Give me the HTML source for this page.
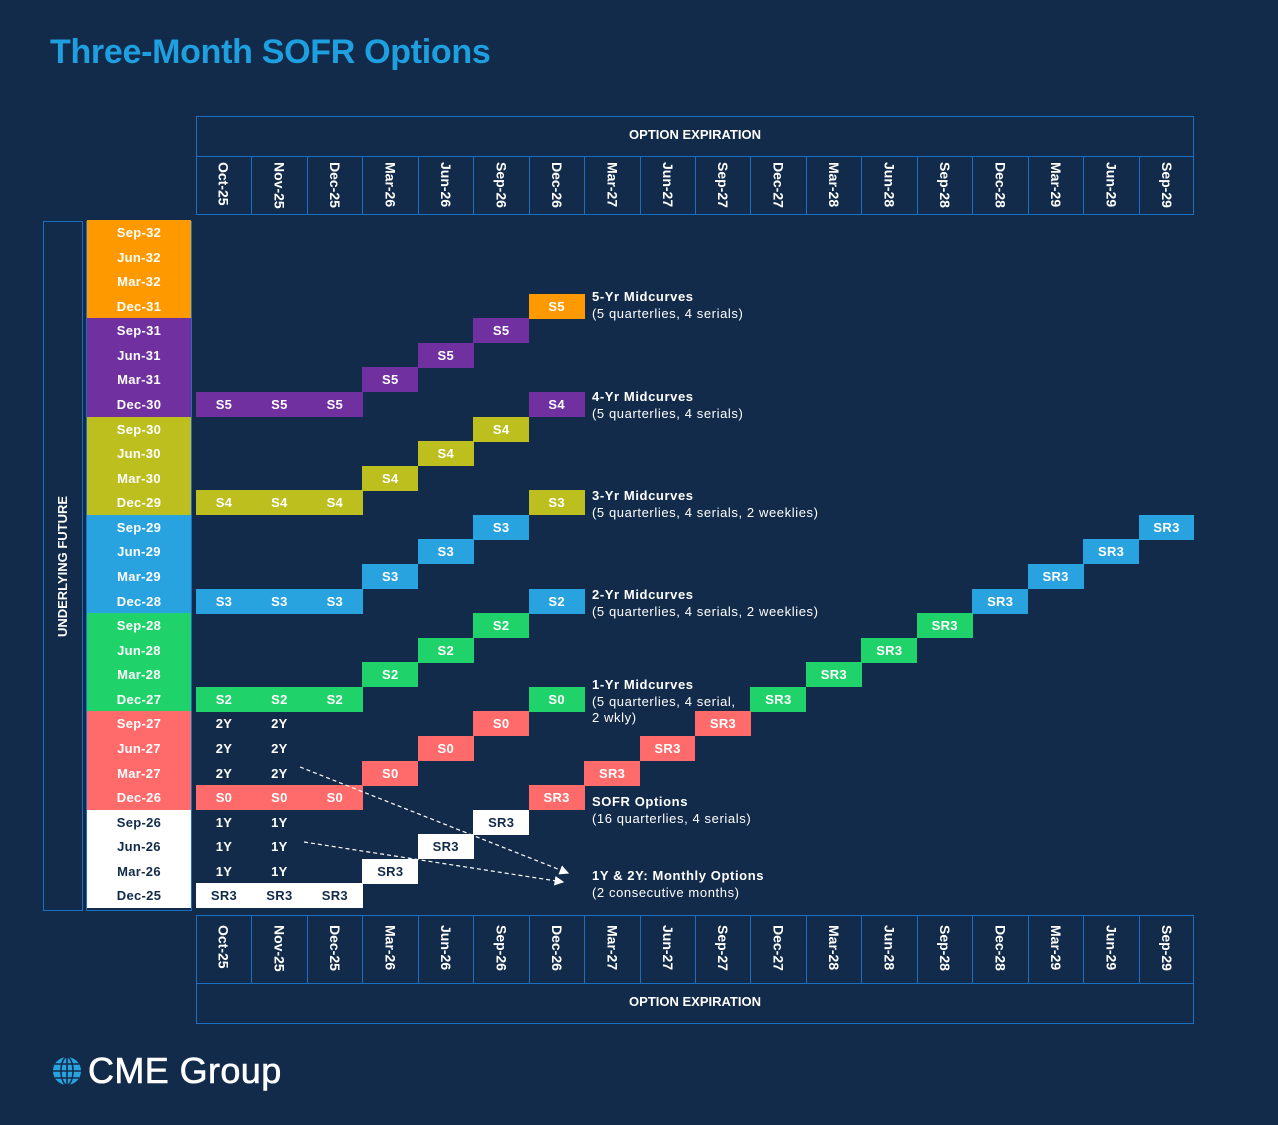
<!DOCTYPE html>
<html><head><meta charset="utf-8"><style>
body{margin:0;width:1278px;height:1125px;background:#132b4a;position:relative;overflow:hidden;font-family:"Liberation Sans",Arial,sans-serif;color:#fff}
.a{position:absolute}
.title{left:50px;top:33px;font-size:34px;font-weight:bold;color:#1e9fe0;letter-spacing:-0.3px}
.box{border:1.5px solid #1a6fc0;box-sizing:border-box}
.hdr{font-size:13px;font-weight:bold;text-align:center}
.colh{writing-mode:vertical-rl;font-size:14px;font-weight:bold;display:flex;justify-content:flex-start;align-items:center;box-sizing:border-box;border-left:1.5px solid #1a6fc0;padding-top:6px}
.cell{font-size:13px;font-weight:bold;display:flex;align-items:center;justify-content:center;letter-spacing:0.3px}
.ann{font-size:13px;line-height:16.5px;left:592px;letter-spacing:0.6px}
</style></head><body>
<div class="a title">Three-Month SOFR Options</div>
<div class="a box" style="left:196px;top:116px;width:998px;height:99px"></div>
<div class="a" style="left:196px;top:156px;width:998px;border-top:1.5px solid #1a6fc0"></div>
<div class="a hdr" style="left:196px;top:127px;width:998px">OPTION EXPIRATION</div>
<div class="a box" style="left:196px;top:915px;width:998px;height:109px"></div>
<div class="a" style="left:196px;top:983px;width:998px;border-top:1.5px solid #1a6fc0"></div>
<div class="a hdr" style="left:196px;top:994px;width:998px">OPTION EXPIRATION</div>
<div class="a box" style="left:43px;top:221px;width:40px;height:690px"></div>
<div class="a" style="left:43px;top:221px;width:40px;height:690px;display:flex;align-items:center;justify-content:center"><div style="transform:rotate(-90deg);white-space:nowrap;font-size:13px;font-weight:bold">UNDERLYING FUTURE</div></div>
<div class="a box" style="left:86px;top:221px;width:106px;height:690px"></div>
<div id="grid"></div>
<svg class="a" style="left:0;top:0" width="1278" height="1125">
<defs><marker id="ar" markerWidth="8" markerHeight="8" refX="7" refY="4" orient="auto"><path d="M0,0 L8,4 L0,8 z" fill="#fff"/></marker></defs>
<line x1="300" y1="767" x2="568" y2="873" stroke="#fff" stroke-width="1.2" stroke-dasharray="4,3" marker-end="url(#ar)"/>
<line x1="304" y1="842" x2="563" y2="882" stroke="#fff" stroke-width="1.2" stroke-dasharray="4,3" marker-end="url(#ar)"/>
</svg>
<div class="a ann" style="top:289px"><b>5-Yr Midcurves</b><br>(5 quarterlies, 4 serials)</div>
<div class="a ann" style="top:389px"><b>4-Yr Midcurves</b><br>(5 quarterlies, 4 serials)</div>
<div class="a ann" style="top:488px"><b>3-Yr Midcurves</b><br>(5 quarterlies, 4 serials, 2 weeklies)</div>
<div class="a ann" style="top:587px"><b>2-Yr Midcurves</b><br>(5 quarterlies, 4 serials, 2 weeklies)</div>
<div class="a ann" style="top:677px"><b>1-Yr Midcurves</b><br>(5 quarterlies, 4 serial,<br>2 wkly)</div>
<div class="a ann" style="top:794px"><b>SOFR Options</b><br>(16 quarterlies, 4 serials)</div>
<div class="a ann" style="top:868px"><b>1Y &amp; 2Y: Monthly Options</b><br>(2 consecutive months)</div>
<svg class="a" style="left:51px;top:1055px" width="32" height="32">
<circle cx="16" cy="16" r="14" fill="#29a3e0"/>
<g stroke="#132b4a" stroke-width="1.6" fill="none"><ellipse cx="16" cy="16" rx="6" ry="14"/><line x1="16" y1="2" x2="16" y2="30"/><line x1="2" y1="16" x2="30" y2="16"/><line x1="4" y1="9" x2="28" y2="9"/><line x1="4" y1="23" x2="28" y2="23"/></g></svg>
<div class="a" style="left:88px;top:1050px;font-size:36px;color:#fff;-webkit-text-stroke:0.6px #fff;letter-spacing:0.4px">CME Group</div>
<script>
const columns=["Oct-25","Nov-25","Dec-25","Mar-26","Jun-26","Sep-26","Dec-26","Mar-27","Jun-27","Sep-27","Dec-27","Mar-28","Jun-28","Sep-28","Dec-28","Mar-29","Jun-29","Sep-29"];
const rows=["Sep-32","Jun-32","Mar-32","Dec-31","Sep-31","Jun-31","Mar-31","Dec-30","Sep-30","Jun-30","Mar-30","Dec-29","Sep-29","Jun-29","Mar-29","Dec-28","Sep-28","Jun-28","Mar-28","Dec-27","Sep-27","Jun-27","Mar-27","Dec-26","Sep-26","Jun-26","Mar-26","Dec-25"];
const rowColors=["#ff9900","#ff9900","#ff9900","#ff9900","#7030a0","#7030a0","#7030a0","#7030a0","#bcbf1e","#bcbf1e","#bcbf1e","#bcbf1e","#29a3e0","#29a3e0","#29a3e0","#29a3e0","#1fd36a","#1fd36a","#1fd36a","#1fd36a","#ff6b6b","#ff6b6b","#ff6b6b","#ff6b6b","#ffffff","#ffffff","#ffffff","#ffffff"];
// [row, col, label, filled]
const cells=[[3,6,"S5",1],[4,5,"S5",1],[5,4,"S5",1],[6,3,"S5",1],[7,0,"S5",1],[7,1,"S5",1],[7,2,"S5",1],[7,6,"S4",1],
[8,5,"S4",1],[9,4,"S4",1],[10,3,"S4",1],[11,0,"S4",1],[11,1,"S4",1],[11,2,"S4",1],[11,6,"S3",1],
[12,5,"S3",1],[12,17,"SR3",1],[13,4,"S3",1],[13,16,"SR3",1],[14,3,"S3",1],[14,15,"SR3",1],[15,0,"S3",1],[15,1,"S3",1],[15,2,"S3",1],[15,6,"S2",1],[15,14,"SR3",1],
[16,5,"S2",1],[16,13,"SR3",1],[17,4,"S2",1],[17,12,"SR3",1],[18,3,"S2",1],[18,11,"SR3",1],[19,0,"S2",1],[19,1,"S2",1],[19,2,"S2",1],[19,6,"S0",1],[19,10,"SR3",1],
[20,0,"2Y",0],[20,1,"2Y",0],[20,5,"S0",1],[20,9,"SR3",1],[21,0,"2Y",0],[21,1,"2Y",0],[21,4,"S0",1],[21,8,"SR3",1],[22,0,"2Y",0],[22,1,"2Y",0],[22,3,"S0",1],[22,7,"SR3",1],
[23,0,"S0",1],[23,1,"S0",1],[23,2,"S0",1],[23,6,"SR3",1],
[24,0,"1Y",0],[24,1,"1Y",0],[24,5,"SR3",1],[25,0,"1Y",0],[25,1,"1Y",0],[25,4,"SR3",1],[26,0,"1Y",0],[26,1,"1Y",0],[26,3,"SR3",1],
[27,0,"SR3",1],[27,1,"SR3",1],[27,2,"SR3",1]];
const X0=196,CW=998/18,Y0=220,RH=688/28;
const xs=c=>X0+c*CW, ys=r=>Y0+r*RH;
const g=document.getElementById('grid');
function mk(cls,st,txt){const d=document.createElement('div');d.className='a '+cls;d.style.cssText=st;d.textContent=txt;g.appendChild(d);return d;}
columns.forEach((c,i)=>{
 const t=mk('colh',`left:${xs(i)}px;top:156px;width:${CW}px;height:58px;${i==0?'border-left:none;':''}`,c);
 
 
 const b=mk('colh',`left:${xs(i)}px;top:915px;width:${CW}px;height:68px;padding-top:10px;${i==0?'border-left:none;':''}`,c);
 
 
});
rows.forEach((r,i)=>{
 const d=mk('cell',`left:87px;top:${ys(i)}px;width:104px;height:${RH+0.5}px;background:${rowColors[i]};color:${rowColors[i]=='#ffffff'?'#132b4a':'#fff'}`,r);
 
 
});
cells.forEach(([r,c,l,f])=>{
 const col=rowColors[r];
 const d=mk('cell',`left:${xs(c)}px;top:${ys(r)}px;width:${CW+0.5}px;height:${RH+0.5}px;${f?'background:'+col+';':''}color:${f&&col=='#ffffff'?'#132b4a':'#fff'}`,l);
 
 
});
</script>
</body></html>
